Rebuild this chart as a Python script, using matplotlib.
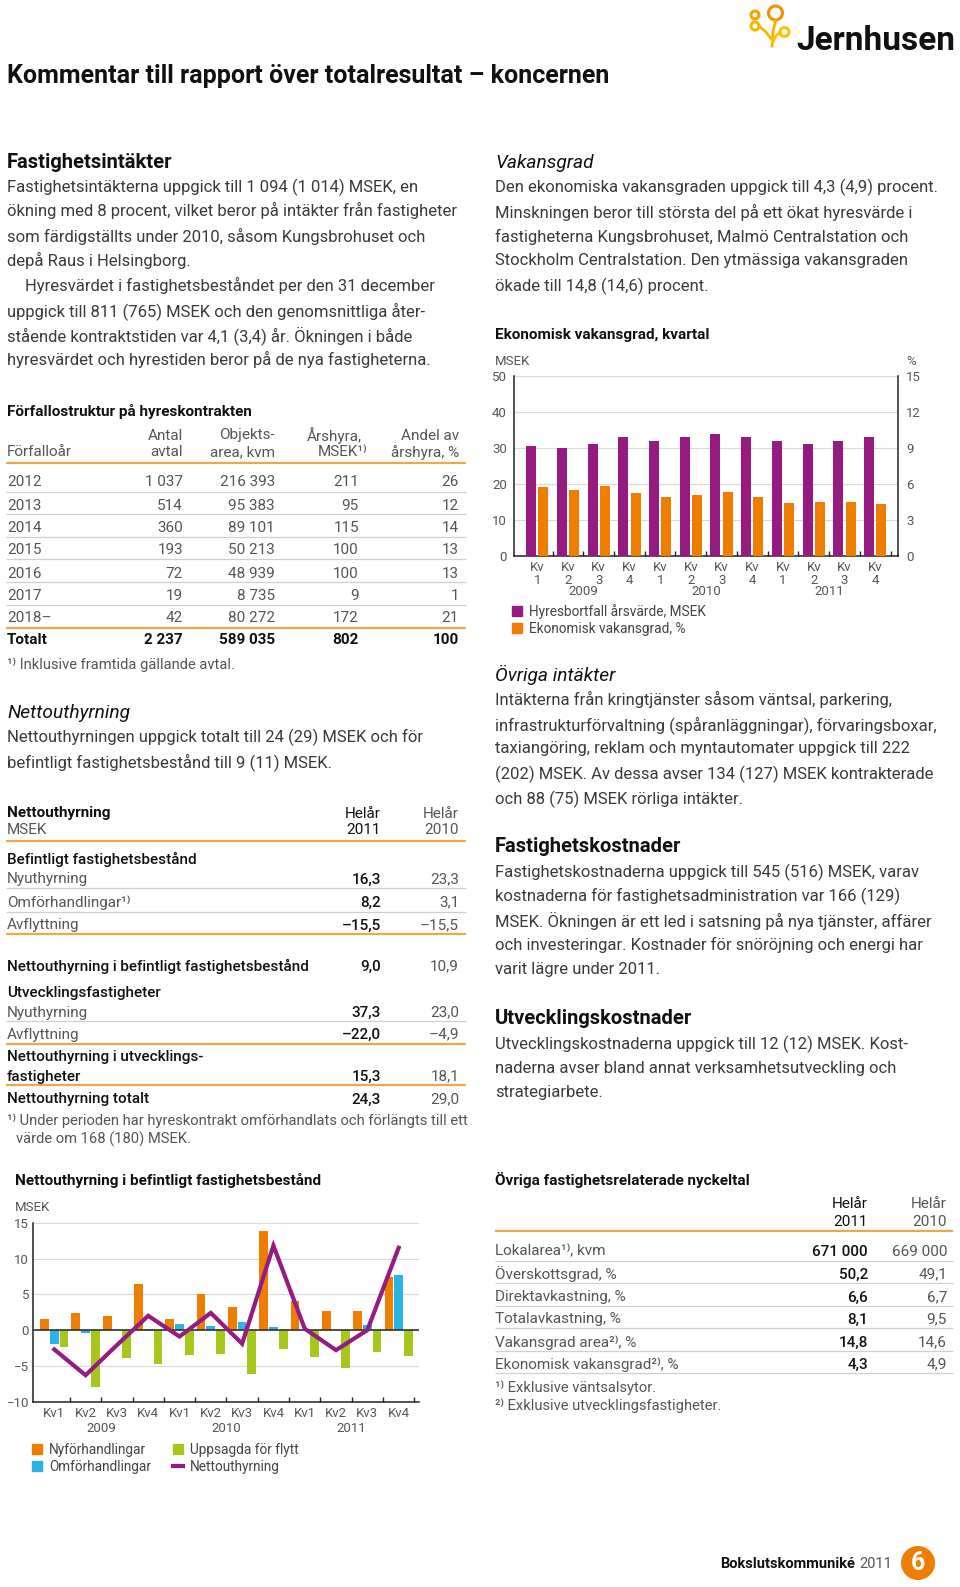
import matplotlib
matplotlib.use('Agg')
import numpy as np
import matplotlib.pyplot as plt
import matplotlib.transforms as mtransforms
from matplotlib.patches import Rectangle, Circle, Patch
from matplotlib.lines import Line2D

plt.rcParams['font.family'] = ['Roboto', 'DejaVu Sans']
plt.rcParams['axes.unicode_minus'] = True

# ---------------- data ----------------
kv_labels_vak = ['Kv\n1', 'Kv\n2', 'Kv\n3', 'Kv\n4'] * 3
kv_labels_net = ['Kv1', 'Kv2', 'Kv3', 'Kv4'] * 3
years = ['2009', '2010', '2011']

hyresbortfall = [30.5, 30.0, 31.0, 33.0, 32.0, 33.0, 34.0, 33.0, 32.0, 31.0, 32.0, 33.0]
vakansgrad = [5.7, 5.5, 5.8, 5.2, 4.9, 5.1, 5.3, 4.9, 4.4, 4.5, 4.5, 4.3]

nyforhandlingar = [1.6, 2.4, 1.9, 6.4, 1.6, 5.0, 3.2, 13.9, 4.0, 2.7, 2.6, 7.4]
omforhandlingar = [-2.0, -0.4, 0.0, 0.2, 0.9, 0.6, 1.1, 0.5, 0.0, 0.0, 0.7, 7.7]
uppsagda = [-2.3, -8.0, -3.9, -4.7, -3.5, -3.4, -6.1, -2.6, -3.7, -5.3, -3.0, -3.6]
nettouthyrning = [-2.7, -6.3, -2.1, 2.0, -0.9, 2.4, -1.9, 11.8, 0.2, -2.8, 0.0, 11.5]

ff_years = ['2012', '2013', '2014', '2015', '2016', '2017', '2018–']
ff_antal = ['1 037', '514', '360', '193', '72', '19', '42']
ff_area = ['216 393', '95 383', '89 101', '50 213', '48 939', '8 735', '80 272']
ff_arshyra = ['211', '95', '115', '100', '100', '9', '172']
ff_andel = ['26', '12', '14', '13', '13', '1', '21']
ff_total = ['Totalt', '2 237', '589 035', '802', '100']

netto_labels = ['Nyuthyrning', 'Omförhandlingar¹⁾', 'Avflyttning',
                'Nettouthyrning i befintligt fastighetsbestånd',
                'Nyuthyrning', 'Avflyttning', 'fastigheter', 'Nettouthyrning totalt']
netto_2011 = ['16,3', '8,2', '–15,5', '9,0', '37,3', '–22,0', '15,3', '24,3']
netto_2010 = ['23,3', '3,1', '–15,5', '10,9', '23,0', '–4,9', '18,1', '29,0']

nyckel_labels = ['Lokalarea¹⁾, kvm', 'Överskottsgrad, %', 'Direktavkastning, %',
                 'Totalavkastning, %', 'Vakansgrad area²⁾, %', 'Ekonomisk vakansgrad²⁾, %']
nyckel_2011 = ['671 000', '50,2', '6,6', '8,1', '14,8', '4,3']
nyckel_2010 = ['669 000', '49,1', '6,7', '9,5', '14,6', '4,9']

# ---------------- style ----------------
W, H = 960, 1587
PURPLE = '#951B81'
ORANGE = '#EF7D00'
BLUE = '#2AB4E6'
GREEN = '#A8C71C'
OLINE = '#F2A54A'
GLINE = '#CFCFCF'
TXT = '#3A3A3A'
GREY = '#555555'
DARK = '#111111'
BODY = 12.0
HEAD = 14.5
ITAL = 13.8
SMALL = 11.0
FOOT = 10.6

fig = plt.figure(figsize=(W / 100, H / 100), dpi=100)
ov = fig.add_axes([0, 0, 1, 1])
ov.set_xlim(0, W)
ov.set_ylim(H, 0)
ov.axis('off')


def T(x, y, s, size=BODY, weight='normal', style='normal', color=TXT, ha='left', va='center_baseline', **kw):
    return ov.text(x, y, s, fontsize=size, fontweight=weight, fontstyle=style,
                   color=color, ha=ha, va=va, **kw)


def hl(x0, x1, y, color=GLINE, lw=0.9):
    ov.plot([x0, x1], [y, y], color=color, lw=lw, solid_capstyle='butt')


# ---------------- header ----------------
T(7, 74, 'Kommentar till rapport över totalresultat – koncernen', size=18, weight='bold', color=DARK)
T(955, 38, 'Jernhusen', size=24, weight='bold', color=DARK, ha='right')
for (cx, cy, r, c) in [(775.5, 13, 7, '#F39200'), (755, 15, 4, '#F5A300'),
                       (755, 26, 4, '#F9B800'), (784.5, 32, 4.5, '#FBC400')]:
    ov.add_patch(Circle((cx, cy), r, fill=False, lw=2.2, ec=c))
ov.plot([775.5, 773, 772], [20, 32, 46], color='#F7B000', lw=2)
ov.plot([759, 766, 772], [26, 32, 40], color='#F9B800', lw=2)
ov.plot([780, 776, 773], [32, 36, 42], color='#FBC400', lw=2)

# ---------------- left column text ----------------
T(7, 161, 'Fastighetsintäkter', size=HEAD, weight='bold', color=DARK)
left_lines = [
    'Fastighetsintäkterna uppgick till 1 094 (1 014) MSEK, en',
    'ökning med 8 procent, vilket beror på intäkter från fastigheter',
    'som färdigställts under 2010, såsom Kungsbrohuset och',
    'depå Raus i Helsingborg.',
    'Hyresvärdet i fastighetsbeståndet per den 31 december',
    'uppgick till 811 (765) MSEK och den genomsnittliga åter-',
    'stående kontraktstiden var 4,1 (3,4) år. Ökningen i både',
    'hyresvärdet och hyrestiden beror på de nya fastigheterna.',
]
for i, (ln, y) in enumerate(zip(left_lines, [185, 209, 235, 259, 284, 309, 334, 358])):
    T(25 if i == 4 else 7, y, ln)

# Förfallostruktur table
T(7, 410, 'Förfallostruktur på hyreskontrakten', size=SMALL, weight='bold', color=DARK)
T(183, 434, 'Antal', size=SMALL, ha='right', color=GREY)
T(275, 434, 'Objekts-', size=SMALL, ha='right', color=GREY)
T(362, 434, 'Årshyra,', size=SMALL, ha='right', color=GREY)
T(459, 434, 'Andel av', size=SMALL, ha='right', color=GREY)
T(7, 451, 'Förfalloår', size=SMALL, color=GREY)
T(183, 451, 'avtal', size=SMALL, ha='right', color=GREY)
T(275, 451, 'area, kvm', size=SMALL, ha='right', color=GREY)
T(367, 451, 'MSEK¹⁾', size=SMALL, ha='right', color=GREY)
T(459, 451, 'årshyra, %', size=SMALL, ha='right', color=GREY)
hl(6, 466, 463, OLINE, 1.6)
row_y = [481, 504, 527, 549, 572, 594, 617]
for i, y in enumerate(row_y):
    T(7, y, ff_years[i], size=SMALL, color=GREY)
    T(183, y, ff_antal[i], size=SMALL, ha='right', color=GREY)
    T(275, y, ff_area[i], size=SMALL, ha='right', color=GREY)
    T(359, y, ff_arshyra[i], size=SMALL, ha='right', color=GREY)
    T(459, y, ff_andel[i], size=SMALL, ha='right', color=GREY)
for y in [492, 514, 537, 559, 582, 605]:
    hl(6, 466, y)
hl(6, 466, 628, OLINE, 1.6)
T(7, 639, ff_total[0], size=SMALL, weight='bold', color=DARK)
for xr, v in zip([183, 275, 359, 459], ff_total[1:]):
    T(xr, 639, v, size=SMALL, weight='bold', color=DARK, ha='right')
T(7, 663, '¹⁾ Inklusive framtida gällande avtal.', size=FOOT, color=GREY)

# Nettouthyrning text
T(7, 711, 'Nettouthyrning', size=ITAL, style='italic', color=DARK)
T(7, 735, 'Nettouthyrningen uppgick totalt till 24 (29) MSEK och för')
T(7, 760, 'befintligt fastighetsbestånd till 9 (11) MSEK.')

# Nettouthyrning table
C1, C2 = 381, 459
T(7, 812, 'Nettouthyrning', size=SMALL, weight='bold', color=DARK)
T(7, 829, 'MSEK', size=SMALL, color=GREY)
T(C1, 812, 'Helår', size=SMALL, ha='right', color=DARK)
T(C1, 829, '2011', size=SMALL, ha='right', color=DARK)
T(C2, 812, 'Helår', size=SMALL, ha='right', color=GREY)
T(C2, 829, '2010', size=SMALL, ha='right', color=GREY)
hl(6, 466, 841, OLINE, 1.6)
T(7, 858, 'Befintligt fastighetsbestånd', size=SMALL, weight='medium', color=DARK)
T(7, 991, 'Utvecklingsfastigheter', size=SMALL, weight='medium', color=DARK)
T(7, 1056, 'Nettouthyrning i utvecklings-', size=SMALL, weight='medium', color=DARK)
net_y = [878, 901, 924, 965, 1011, 1033, 1075, 1098]
strong = [False, False, False, True, False, False, True, True]
for lab, a, b, y, s in zip(netto_labels, netto_2011, netto_2010, net_y, strong):
    T(7, y, lab, size=SMALL, weight='medium' if s else 'normal', color=DARK if s else GREY)
    T(C1, y, a, size=SMALL, ha='right', weight='medium', color=DARK)
    T(C2, y, b, size=SMALL, ha='right', color=GREY)
for y in [888, 912, 1021]:
    hl(6, 466, y)
for y in [934, 1044, 1085]:
    hl(6, 466, y, OLINE, 1.6)
T(7, 1119, '¹⁾ Under perioden har hyreskontrakt omförhandlats och förlängts till ett', size=FOOT, color=GREY)
T(16, 1138, 'värde om 168 (180) MSEK.', size=FOOT, color=GREY)

# ---------------- right column text ----------------
RX = 495
T(RX, 161, 'Vakansgrad', size=ITAL, style='italic', color=DARK)
right_lines = [
    'Den ekonomiska vakansgraden uppgick till 4,3 (4,9) procent.',
    'Minskningen beror till största del på ett ökat hyresvärde i',
    'fastigheterna Kungsbrohuset, Malmö Centralstation och',
    'Stockholm Centralstation. Den ytmässiga vakansgraden',
    'ökade till 14,8 (14,6) procent.',
]
for ln, y in zip(right_lines, [185, 211, 235, 259, 284]):
    T(RX, y, ln)
T(RX, 333, 'Ekonomisk vakansgrad, kvartal', size=SMALL, weight='bold', color=DARK)
T(RX, 360, 'MSEK', size=9.5, color=GREY)
T(916, 360, '%', size=9.5, color=GREY, ha='right')

T(RX, 673, 'Övriga intäkter', size=ITAL, style='italic', color=DARK)
for ln, y in zip([
    'Intäkterna från kringtjänster såsom väntsal, parkering,',
    'infrastrukturförvaltning (spåranläggningar), förvaringsboxar,',
    'taxiangöring, reklam och myntautomater uppgick till 222',
    '(202) MSEK. Av dessa avser 134 (127) MSEK kontrakterade',
    'och 88 (75) MSEK rörliga intäkter.'], [698, 723, 747, 772, 797]):
    T(RX, y, ln)
T(RX, 845, 'Fastighetskostnader', size=HEAD, weight='bold', color=DARK)
for ln, y in zip([
    'Fastighetskostnaderna uppgick till 545 (516) MSEK, varav',
    'kostnaderna för fastighetsadministration var 166 (129)',
    'MSEK. Ökningen är ett led i satsning på nya tjänster, affärer',
    'och investeringar. Kostnader för snöröjning och energi har',
    'varit lägre under 2011.'], [870, 894, 919, 943, 968]):
    T(RX, y, ln)
T(RX, 1017, 'Utvecklingskostnader', size=HEAD, weight='bold', color=DARK)
for ln, y in zip([
    'Utvecklingskostnaderna uppgick till 12 (12) MSEK. Kost-',
    'naderna avser bland annat verksamhetsutveckling och',
    'strategiarbete.'], [1042, 1067, 1091]):
    T(RX, y, ln)

# Nyckeltal table
D1, D2 = 868, 947
T(RX, 1178, 'Övriga fastighetsrelaterade nyckeltal', size=SMALL, weight='bold', color=DARK)
T(D1, 1203, 'Helår', size=SMALL, ha='right', color=DARK)
T(D1, 1220, '2011', size=SMALL, ha='right', color=DARK)
T(D2, 1203, 'Helår', size=SMALL, ha='right', color=GREY)
T(D2, 1220, '2010', size=SMALL, ha='right', color=GREY)
hl(495, 953, 1231, OLINE, 1.6)
for lab, a, b, y in zip(nyckel_labels, nyckel_2011, nyckel_2010, [1250, 1273, 1296, 1318, 1341, 1363]):
    T(RX, y, lab, size=SMALL, color=GREY)
    T(D1, y, a, size=SMALL, ha='right', weight='medium', color=DARK)
    T(D2, y, b, size=SMALL, ha='right', color=GREY)
for y in [1261, 1283, 1306, 1328, 1351, 1373]:
    hl(495, 953, y)
T(RX, 1386, '¹⁾ Exklusive väntsalsytor.', size=FOOT, color=GREY)
T(RX, 1404, '²⁾ Exklusive utvecklingsfastigheter.', size=FOOT, color=GREY)

# ---------------- footer ----------------
bk = T(720, 1563, 'Bokslutskommuniké', size=10.5, weight='bold', color=DARK)
ov.annotate('2011', xy=(1, 0), xycoords=bk, xytext=(3, 0), textcoords='offset points',
            fontsize=10.5, color=GREY, ha='left', va='bottom')
ov.add_patch(Circle((918, 1563), 17, color=ORANGE, lw=0))
T(918, 1563, '6', size=18, weight='bold', color='white', ha='center', va='center')

# ---------------- chart 1: vakansgrad ----------------
x = np.arange(12)
ax1 = fig.add_axes([514 / W, 1 - 555.7 / H, 384 / W, 179.7 / H])
ax1.bar(x - 0.2, hyresbortfall, width=0.325, color=PURPLE, zorder=3)
ax1.set_xlim(-0.755, 11.74)
ax1.set_ylim(0, 50)
ax1.set_yticks(range(0, 51, 10))
ax1.yaxis.grid(True, color='#D9D9D9', lw=0.8)
ax1.set_axisbelow(True)
ax1.set_xticks(x)
ax1.set_xticklabels(kv_labels_vak, linespacing=0.95)
ax1.set_xticks(np.arange(0.5, 12, 1), minor=True)
ax1.tick_params(axis='x', which='major', length=0, pad=4, labelsize=9.5, labelcolor=GREY)
ax1.tick_params(axis='x', which='minor', length=3.5, direction='in', width=1, color='#222222')
ax1.tick_params(axis='y', length=0, pad=5, labelsize=9.5, labelcolor=GREY)
for s in ['top', 'right']:
    ax1.spines[s].set_visible(False)
for s in ['left', 'bottom']:
    ax1.spines[s].set_color('#222222')
    ax1.spines[s].set_linewidth(1.1)
ax1b = ax1.twinx()
ax1b.bar(x + 0.2, vakansgrad, width=0.325, color=ORANGE, zorder=3)
ax1b.set_ylim(0, 15)
ax1b.set_yticks(range(0, 16, 3))
ax1b.tick_params(axis='y', length=0, pad=6, labelsize=9.5, labelcolor=GREY)
for s in ['top', 'left', 'bottom']:
    ax1b.spines[s].set_visible(False)
ax1b.spines['right'].set_color('#222222')
ax1b.spines['right'].set_linewidth(1.1)
tr1 = mtransforms.blended_transform_factory(ax1.transData, ax1.transAxes)
for i, yr in enumerate(years):
    ax1.text(1.5 + 4 * i, -0.2, yr, transform=tr1, ha='center', va='center', fontsize=9.5, color=GREY)
fig.legend([Patch(color=PURPLE), Patch(color=ORANGE)],
           ['Hyresbortfall årsvärde, MSEK', 'Ekonomisk vakansgrad, %'],
           loc='upper left', bbox_to_anchor=(512 / W, 1 - 604 / H), frameon=False,
           fontsize=9.8, handlelength=0.75, handleheight=0.75, handletextpad=0.5,
           labelspacing=0.2, borderpad=0, borderaxespad=0, labelcolor='#444444')

# ---------------- chart 2: nettouthyrning ----------------
T(15, 1179, 'Nettouthyrning i befintligt fastighetsbestånd', size=SMALL, weight='bold', color=DARK)
T(15, 1206, 'MSEK', size=9.5, color=GREY)
ax2 = fig.add_axes([33.3 / W, 1 - 1401.7 / H, 385.7 / W, 179 / H])
ax2.bar(x - 0.31, nyforhandlingar, width=0.28, color=ORANGE, zorder=3)
ax2.bar(x, omforhandlingar, width=0.28, color=BLUE, zorder=3)
ax2.bar(x + 0.31, uppsagda, width=0.28, color=GREEN, zorder=3)
ax2.axhline(0, color='#333333', lw=1.2, zorder=4)
ax2.plot(x, nettouthyrning, color=PURPLE, lw=3, zorder=5, solid_joinstyle='miter')
ax2.set_xlim(-0.67, 11.65)
ax2.set_ylim(-10, 15)
ax2.set_yticks(range(-10, 16, 5))
ax2.yaxis.grid(True, color='#D9D9D9', lw=0.8)
ax2.set_axisbelow(True)
ax2.set_xticks(x)
ax2.set_xticklabels(kv_labels_net)
ax2.set_xticks(np.arange(0.5, 12, 1), minor=True)
ax2.tick_params(axis='x', which='major', length=0, pad=4, labelsize=9.5, labelcolor=GREY)
ax2.tick_params(axis='x', which='minor', length=3.5, direction='in', width=1, color='#222222')
ax2.tick_params(axis='y', length=0, pad=3, labelsize=9.5, labelcolor=GREY)
for s in ['top', 'right']:
    ax2.spines[s].set_visible(False)
for s in ['left', 'bottom']:
    ax2.spines[s].set_color('#222222')
    ax2.spines[s].set_linewidth(1.1)
tr2 = mtransforms.blended_transform_factory(ax2.transData, ax2.transAxes)
for i, yr in enumerate(years):
    ax2.text(1.5 + 4 * i, -0.147, yr, transform=tr2, ha='center', va='center', fontsize=9.5, color=GREY)
fig.legend([Patch(color=ORANGE), Patch(color=BLUE), Patch(color=GREEN),
            Line2D([], [], color=PURPLE, lw=3)],
           ['Nyförhandlingar', 'Omförhandlingar', 'Uppsagda för flytt', 'Nettouthyrning'],
           ncol=2, loc='upper left', bbox_to_anchor=(32 / W, 1 - 1443 / H), frameon=False,
           fontsize=9.8, handlelength=0.75, handleheight=0.75, handletextpad=0.5,
           labelspacing=0.2, columnspacing=1.6, borderpad=0, borderaxespad=0,
           labelcolor='#444444')

fig.savefig('out.png', dpi=100, facecolor='white')
